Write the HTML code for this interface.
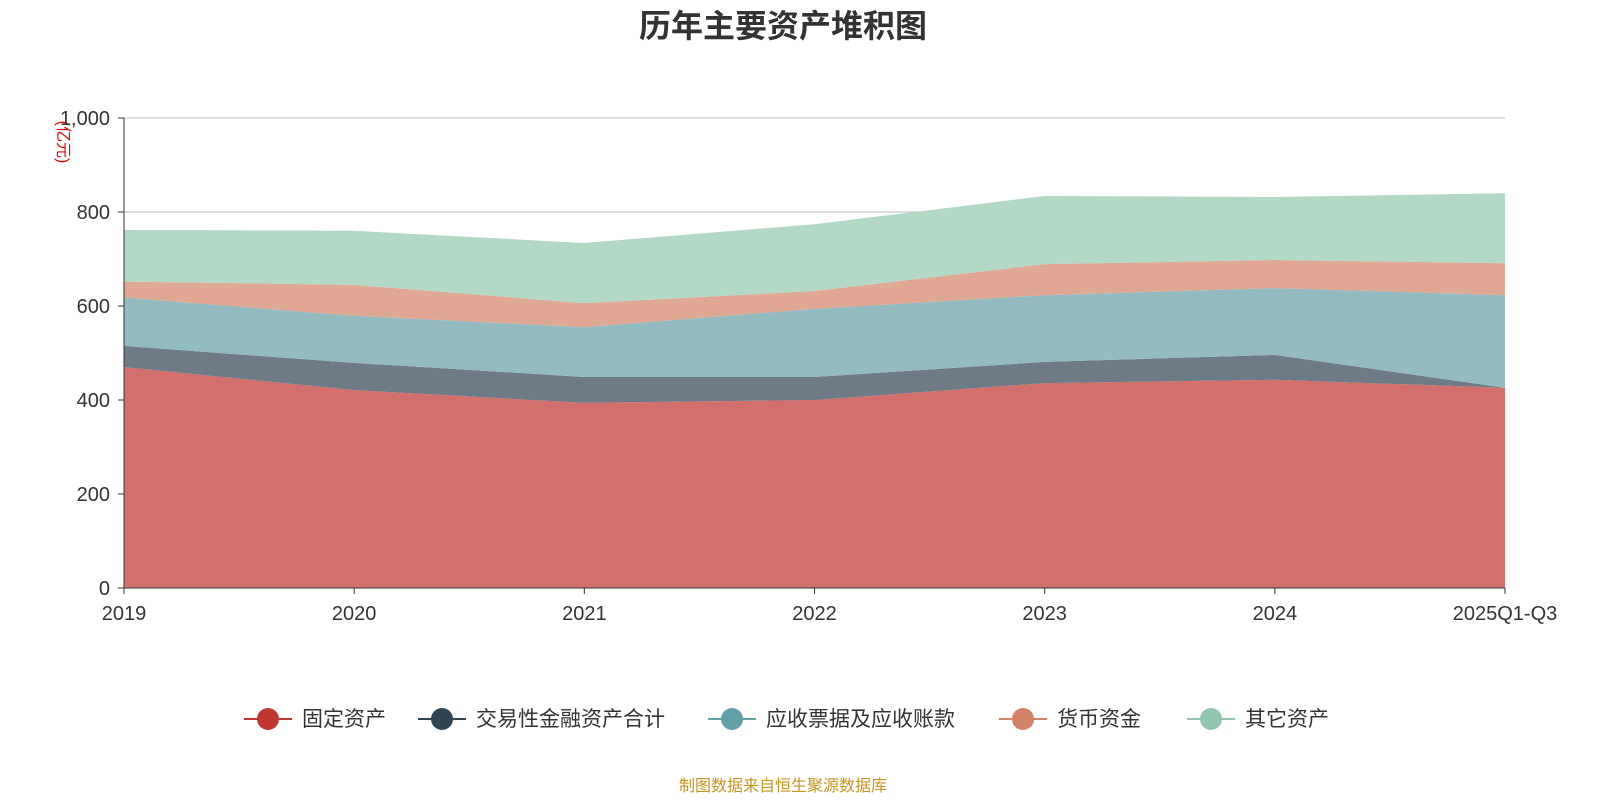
<!DOCTYPE html>
<html><head><meta charset="utf-8"><style>
body{margin:0;background:#fff;width:1600px;height:800px;overflow:hidden;font-family:"Liberation Sans","Noto Sans CJK SC",sans-serif}
</style></head><body>
<svg id="chart" width="1600" height="800" xmlns="http://www.w3.org/2000/svg" font-family="Liberation Sans, Noto Sans CJK SC, sans-serif">
<text x="783" y="37" text-anchor="middle" font-size="32" font-weight="bold" fill="#333">历年主要资产堆积图</text>
<text transform="translate(58,142) rotate(90)" text-anchor="middle" font-size="16" fill="#e00">(亿元)</text>
<g id="grid"></g><g id="areas"></g><g id="axes"></g>
<g id="legend"></g>
<text x="783" y="791" text-anchor="middle" font-size="16" fill="#c8961e">制图数据来自恒生聚源数据库</text>
</svg>
<script>
const categories=["2019","2020","2021","2022","2023","2024","2025Q1-Q3"];
const seriesNames=["固定资产","交易性金融资产合计","应收票据及应收账款","货币资金","其它资产"];
const fixedAssets=[470,421,394,400,436,443,426];
const tradingAssets=[45,58,55,49,45,53,0];
const receivables=[103,100,106,145,142,142,197];
const cash=[34,66,51,38,66,60,68];
const otherAssets=[110,115,128,142,145,134,149];
const yTicks=[0,200,400,600,800,1000];
const colors=["#c23531","#2f4554","#61a0a8","#d48265","#91c7ae"];
const fills=["#d4706c","#6e7a85","#92bbc2","#e0a792","#b2d8c6"];
const x0=124,x1=1505,yB=588,yT=118;
const xs=i=>x0+i*(x1-x0)/(categories.length-1);
const ys=v=>yB-v/1000*(yB-yT);
const NS="http://www.w3.org/2000/svg";
function mk(t,a,p){const e=document.createElementNS(NS,t);for(const k in a)e.setAttribute(k,a[k]);p.appendChild(e);return e;}
const grid=document.getElementById('grid'),axes=document.getElementById('axes'),areas=document.getElementById('areas'),legend=document.getElementById('legend');
yTicks.forEach(v=>{
 if(v>0){const l=mk('line',{x1:x0,x2:x1,y1:ys(v),y2:ys(v),stroke:'#bbb','stroke-width':1},grid);
 
 }
 const t=mk('text',{x:x0-14,y:ys(v)+7,'text-anchor':'end','font-size':20,fill:'#333'},axes);t.textContent=v.toLocaleString('en-US');
 
 
 mk('line',{x1:x0-6,x2:x0,y1:ys(v),y2:ys(v),stroke:'#333'},axes);
});
const data=[fixedAssets,tradingAssets,receivables,cash,otherAssets];
let base=categories.map(()=>0);
data.forEach((s,k)=>{
 const top=base.map((b,i)=>b+s[i]);
 let d='M'+top.map((v,i)=>xs(i)+','+ys(v)).join('L');
 for(let i=categories.length-1;i>=0;i--)d+='L'+xs(i)+','+ys(base[i]);
 const p=mk('path',{d:d+'Z',fill:fills[k]},areas);
 
 
 base=top;
});
mk('line',{x1:x0,x2:x0,y1:yT,y2:yB,stroke:'#333'},axes);
mk('line',{x1:x0,x2:x1,y1:yB,y2:yB,stroke:'#333'},axes);
categories.forEach((c,i)=>{
 mk('line',{x1:xs(i),x2:xs(i),y1:yB,y2:yB+6,stroke:'#333'},axes);
 const t=mk('text',{x:xs(i),y:620,'text-anchor':'middle','font-size':20,fill:'#333'},axes);t.textContent=c;
 
 
});
const lx=[244,418,708,999,1187];
seriesNames.forEach((n,k)=>{
 const g=mk('g',{},legend);
 
 
 mk('line',{x1:lx[k],x2:lx[k]+48,y1:719,y2:719,stroke:colors[k],'stroke-width':2},g);
 mk('circle',{cx:lx[k]+24,cy:719,r:11,fill:colors[k]},g);
 const t=mk('text',{x:lx[k]+58,y:726,'font-size':21,fill:'#333'},g);t.textContent=n;
});
</script>
</body></html>
